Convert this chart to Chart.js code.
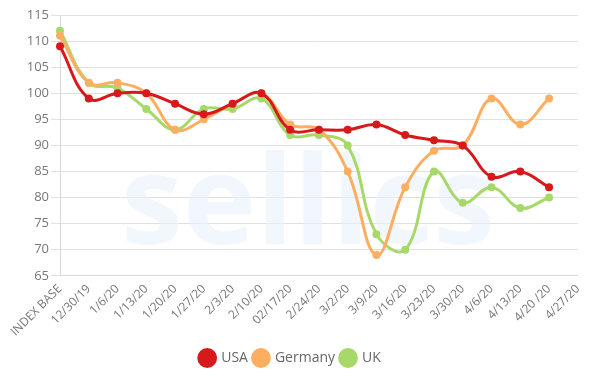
<!DOCTYPE html>
<html>
<head>
<meta charset="utf-8">
<script src="https://cdn.jsdelivr.net/npm/chart.js@4"></script>
<style>
  html, body { margin: 0; padding: 0; background: #fff; }
  #wrap { width: 594px; height: 391px; }
</style>
</head>
<body>
<div id="wrap"><canvas id="myChart"></canvas></div>
<script>
const weekLabels = ["INDEX BASE", "12/30/19", "1/6/20", "1/13/20", "1/20/20", "1/27/20", "2/3/20",
    "2/10/20", "02/17/20", "2/24/20", "3/2/20", "3/9/20", "3/16/20", "3/23/20", "3/30/20",
    "4/6/20", "4/13/20", "4/20 /20", "4/27/20"];

const usaValues = [109, 99, 100, 100, 98, 96, 98, 100, 93, 93, 93, 94, 92, 91, 90, 84, 85, 82];
const germanyValues = [111, 102, 102, 100, 93, 95, 98, 100, 94, 93, 85, 69, 82, 89, 90, 99, 94, 99];
const ukValues = [112, 102, 101, 97, 93, 97, 97, 99, 92, 92, 90, 73, 70, 85, 79, 82, 78, 80];

const yTicks = [65, 70, 75, 80, 85, 90, 95, 100, 105, 110, 115];

const fontFamily = "'Open Sans', 'DejaVu Sans', sans-serif";

// faint "sellics" text behind the lines
const watermark = {
    id: 'watermark',
    beforeDatasetsDraw(chart) {
        const c = chart.ctx;
        c.save();
        c.fillStyle = 'rgba(232, 242, 252, 0.6)';
        c.font = "bold 124px 'Open Sans', sans-serif";
        c.textAlign = 'center';
        c.textBaseline = 'alphabetic';
        c.fillText('sellics', 308, 244);
        c.restore();
    }
};

function makeSet(label, color, values) {
    return {
        label: label,
        data: values,
        borderColor: color,
        backgroundColor: color,
        borderWidth: 3,
        pointRadius: 4,
        pointBorderWidth: 0,
        pointHoverRadius: 4,
        tension: 0.4,
        fill: false
    };
}

new Chart(document.getElementById('myChart').getContext('2d'), {
    type: 'line',
    data: {
        labels: weekLabels,
        datasets: [
            makeSet('USA', '#d7191c', usaValues),
            makeSet('Germany', '#fdae61', germanyValues),
            makeSet('UK', '#a6d96a', ukValues)
        ]
    },
    options: {
        responsive: true,
        maintainAspectRatio: false,
        animation: false,
        layout: { padding: { top: 15, right: 13, left: 0, bottom: 16 } },
        plugins: {
            legend: {
                position: 'bottom',
                labels: {
                    usePointStyle: true,
                    pointStyle: 'circle',
                    boxWidth: 16,
                    boxHeight: 16,
                    padding: 6,
                    color: '#666',
                    font: { family: fontFamily, size: 14 }
                }
            },
            tooltip: { enabled: false }
        },
        scales: {
            x: {
                offset: false,
                grid: { display: false, drawTicks: false },
                border: { display: true, color: '#d8d8d8' },
                ticks: {
                    autoSkip: false,
                    maxRotation: 45,
                    minRotation: 45,
                    color: '#777',
                    padding: 6,
                    font: { family: fontFamily, size: 12 }
                }
            },
            y: {
                min: 65,
                max: 115,
                afterBuildTicks: (scale) => { scale.ticks = yTicks.map(v => ({ value: v })); },
                afterFit: (scale) => { scale.width = 60; },
                grid: { color: '#e0e0e0', tickLength: 9 },
                border: { display: true, color: '#d8d8d8' },
                ticks: {
                    color: '#777',
                    padding: 2,
                    font: { family: fontFamily, size: 13 }
                }
            }
        }
    },
    plugins: [watermark]
});
</script>
</body>
</html>
